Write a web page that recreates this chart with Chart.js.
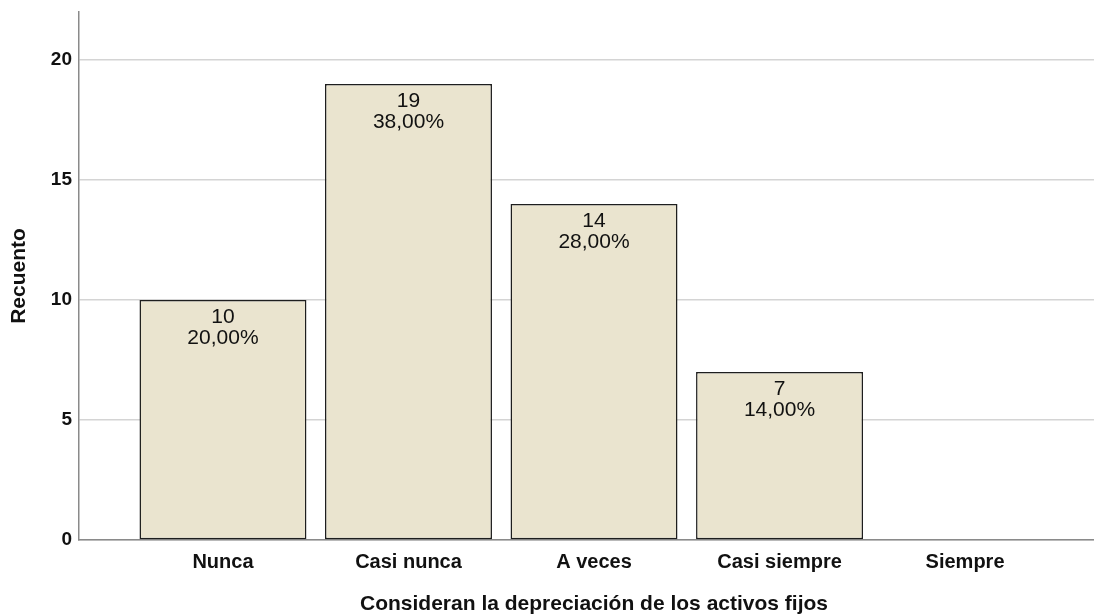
<!DOCTYPE html>
<html>
<head>
<meta charset="utf-8">
<script src="https://cdn.jsdelivr.net/npm/chart.js@4/dist/chart.umd.min.js"></script>
<style>
  html, body { margin: 0; padding: 0; background: #ffffff; }
  #wrap { width: 1094px; height: 615px; position: relative; }
</style>
</head>
<body>
<div id="wrap"><canvas id="c"></canvas></div>
<script>
// Response categories and frequency counts
const categories = ['Nunca', 'Casi nunca', 'A veces', 'Casi siempre', 'Siempre'];
const counts = [10, 19, 14, 7, 0];
const yTicks = [0, 5, 10, 15, 20];
const xTitle = 'Consideran la depreciación de los activos fijos';
const yTitle = 'Recuento';

const total = counts.reduce((a, b) => a + b, 0);
const pctText = v => (v / total * 100).toFixed(2).replace('.', ',') + '%';

const FONT = '"Liberation Sans", Arial, sans-serif';

// Count and percentage written inside the top of each bar,
// plus the category axis title centred under the categories
const barLabels = {
  id: 'barLabels',
  afterDatasetsDraw(chart) {
    const ctx = chart.ctx;
    const meta = chart.getDatasetMeta(0);
    ctx.save();
    ctx.fillStyle = '#111111';
    ctx.font = '21px ' + FONT;
    ctx.textAlign = 'center';
    ctx.textBaseline = 'middle';
    meta.data.forEach((bar, i) => {
      const v = counts[i];
      if (!v) return;
      ctx.fillText(String(v), bar.x, bar.y + 17);
      ctx.fillText(pctText(v), bar.x, bar.y + 38);
    });
    const xs = chart.scales.x;
    const mid = (xs.getPixelForValue(0) + xs.getPixelForValue(categories.length - 1)) / 2;
    ctx.font = 'bold 21px ' + FONT;
    ctx.fillText(xTitle, mid, 604);
    ctx.restore();
  }
};

new Chart(document.getElementById('c'), {
  type: 'bar',
  data: {
    datasets: [{
      data: counts.map((v, i) => ({ x: i, y: v === 0 ? null : v })),
      backgroundColor: '#eae4cf',
      borderColor: '#1e1e1e',
      borderWidth: 1.5,
      borderSkipped: false,
      barPercentage: 0.9,
      categoryPercentage: 1.0
    }]
  },
  options: {
    responsive: true,
    maintainAspectRatio: false,
    animation: false,
    layout: { padding: { left: 0, right: 0, top: 12, bottom: 0 } },
    plugins: { legend: { display: false }, tooltip: { enabled: false } },
    scales: {
      x: {
        type: 'linear',
        offset: false,
        min: -0.776,
        max: 4.695,
        afterBuildTicks(scale) {
          scale.ticks = categories.map((_, i) => ({ value: i }));
        },
        afterFit(scale) {
          scale.height = 75;
          scale.paddingLeft = 0;
          scale.paddingRight = 0;
        },
        grid: { display: false, drawTicks: false },
        border: { display: true, color: '#8a8a8a', width: 1.5 },
        ticks: {
          padding: 10,
          autoSkip: false,
          maxRotation: 0,
          color: '#111111',
          font: { family: FONT, size: 20, weight: 'bold' },
          callback: v => categories[v] ?? ''
        }
      },
      y: {
        min: 0,
        max: 22,
        afterBuildTicks(scale) {
          scale.ticks = yTicks.map(v => ({ value: v }));
        },
        afterFit(scale) {
          scale.width = 79;
          scale.paddingTop = 0;
          scale.paddingBottom = 0;
        },
        grid: { color: '#d4d4d4', lineWidth: 1.5, drawTicks: false },
        border: { display: true, color: '#8a8a8a', width: 1.5 },
        ticks: {
          padding: 7,
          color: '#111111',
          font: { family: FONT, size: 19, weight: 'bold' }
        },
        title: {
          display: true,
          text: yTitle,
          color: '#111111',
          font: { family: FONT, size: 21, weight: 'bold' },
          padding: { top: 7, bottom: 0 }
        }
      }
    }
  },
  plugins: [barLabels]
});
</script>
</body>
</html>
